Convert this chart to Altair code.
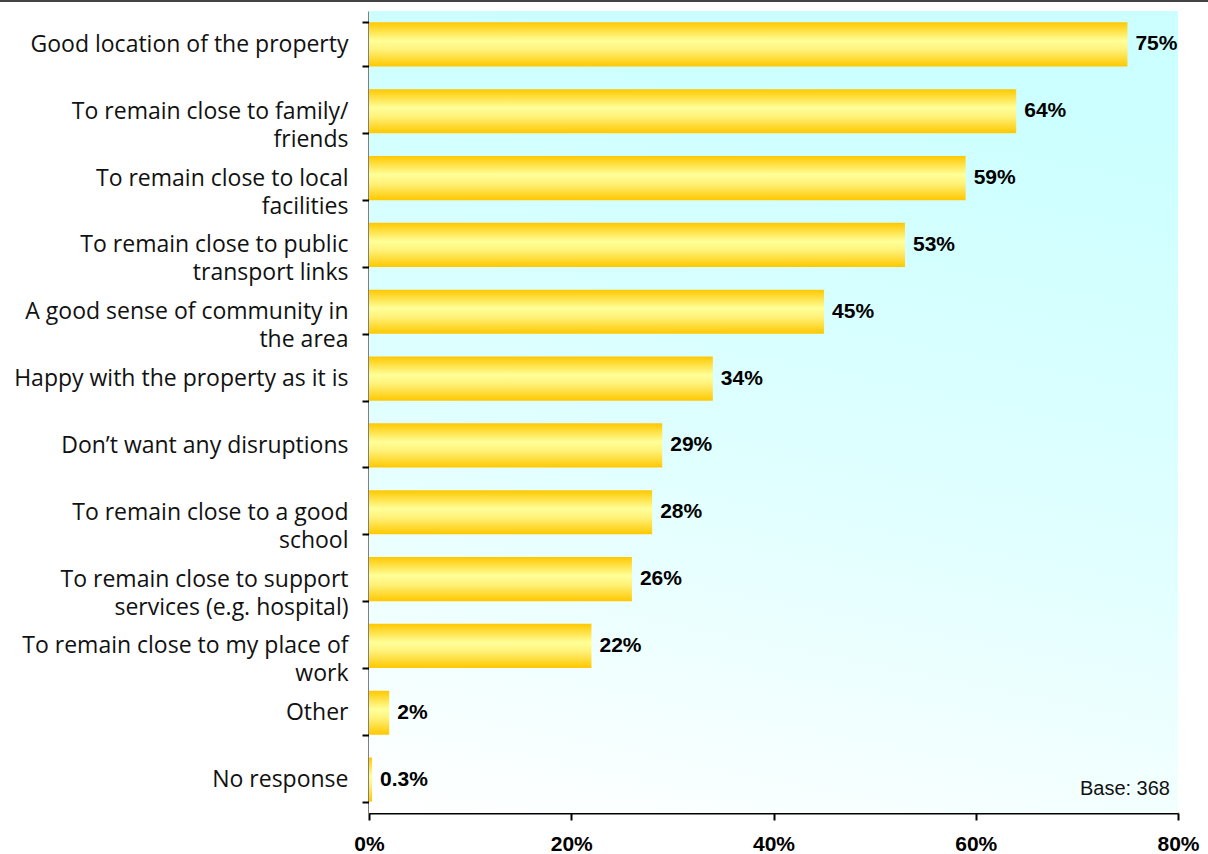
import altair as alt
import pandas as pd

# Reasons for staying in the current home (share of respondents, %)
reasons = [
    "Good location of the property",
    "To remain close to family/\nfriends",
    "To remain close to local\nfacilities",
    "To remain close to public\ntransport links",
    "A good sense of community in\nthe area",
    "Happy with the property as it is",
    "Don\u2019t want any disruptions",
    "To remain close to a good\nschool",
    "To remain close to support\nservices (e.g. hospital)",
    "To remain close to my place of\nwork",
    "Other",
    "No response",
]
shares = [75, 64, 59, 53, 45, 34, 29, 28, 26, 22, 2, 0.3]
share_labels = ["75%", "64%", "59%", "53%", "45%", "34%", "29%", "28%", "26%", "22%", "2%", "0.3%"]
x_ticks = [0, 20, 40, 60, 80]
base_note = ["Base: 368"]

df = pd.DataFrame({"reason": reasons, "share": shares, "label": share_labels})

W, H = 809, 802

y_enc = alt.Y(
    "reason:N",
    sort=reasons,
    scale=alt.Scale(paddingInner=0.34, paddingOuter=0.17),
    axis=alt.Axis(
        title=None,
        labelExpr="isValid(datum.value) ? split(datum.value, '\\n') : ''",
        labelFont="Open Sans",
        labelFontSize=23,
        labelColor="#111111",
        labelLineHeight=28,
        labelPadding=14,
        labelLimit=400,
        tickBand="extent",
        tickSize=7,
        tickWidth=2,
        tickColor="black",
        domainColor="black",
        domainWidth=2,
    ),
)
x_scale = alt.Scale(domain=[0, 80], nice=False)

# plot-area backdrop: pale cyan fading to white
backdrop = alt.Chart(pd.DataFrame({"k": [0]})).mark_rect(
    fill=alt.LinearGradient(
        gradient="linear",
        x1=0.2, y1=0, x2=0, y2=1,
        stops=[
            alt.GradientStop(color="#CCFFFF", offset=0),
            alt.GradientStop(color="#E0FFFF", offset=0.5),
            alt.GradientStop(color="#FFFFFF", offset=1),
        ],
    ),
).encode(x=alt.value(0), x2=alt.value(W), y=alt.value(0), y2=alt.value(H))

bars = alt.Chart(df).mark_bar(
    color=alt.LinearGradient(
        gradient="linear",
        x1=0, y1=0, x2=0, y2=1,
        stops=[
            alt.GradientStop(color="#FFC800", offset=0),
            alt.GradientStop(color="#FFFF99", offset=0.42),
            alt.GradientStop(color="#FFF27A", offset=0.62),
            alt.GradientStop(color="#FFC800", offset=1),
        ],
    ),
).encode(
    y=y_enc,
    x=alt.X(
        "share:Q",
        scale=x_scale,
        axis=alt.Axis(
            title=None,
            values=x_ticks,
            labelExpr="datum.value + '%'",
            labelFont="Arial",
            labelFontWeight="bold",
            labelFontSize=21,
            labelColor="black",
            labelPadding=13,
            labelFlush=False,
            grid=False,
            tickSize=7,
            tickWidth=2,
            tickColor="black",
            domainColor="black",
            domainWidth=2,
        ),
    ),
)

values = alt.Chart(df).mark_text(
    align="left", baseline="middle", dx=8, font="Arial", fontWeight="bold",
    fontSize=21, color="black",
).encode(y=alt.Y("reason:N", sort=reasons), x=alt.X("share:Q", scale=x_scale), text="label:N")

note = alt.Chart(pd.DataFrame({"t": base_note})).mark_text(
    align="right", baseline="middle", font="Arial", fontSize=20, color="#111111",
).encode(x=alt.value(W - 8), y=alt.value(H - 24), text="t:N")

top_line = alt.Chart(pd.DataFrame({"k": [0]})).mark_rule(color="#444444", strokeWidth=2).encode(
    x=alt.value(-369), x2=alt.value(W + 30), y=alt.value(-10)
)

chart = alt.layer(backdrop, bars, values, note, top_line).properties(
    width=W, height=H,
    padding={"left": 369, "top": 11, "right": 30, "bottom": 41},
    autosize=alt.AutoSizeParams(type="none"),
    background="white",
).configure_view(stroke=None)

chart.save("out.html", embed_options={"renderer": "svg", "actions": False})
